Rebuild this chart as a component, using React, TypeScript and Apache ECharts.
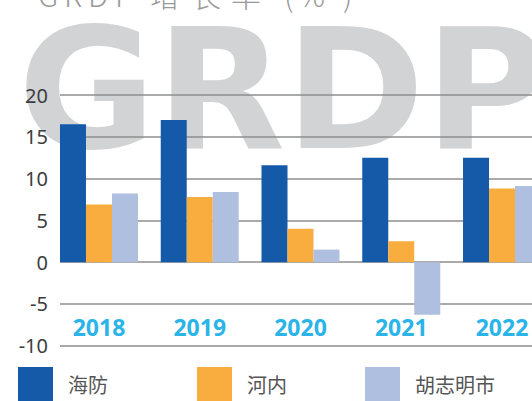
import React, { useEffect, useRef } from "react";
import * as echarts from "echarts";

const years = ["2018", "2019", "2020", "2021", "2022"];
const haiphong = [16.5, 17.0, 11.6, 12.5, 12.5];
const hanoi = [6.9, 7.8, 4.0, 2.5, 8.8];
const hcmc = [8.2, 8.4, 1.5, -6.3, 9.1];
const seriesNames = ["海防", "河内", "胡志明市"];
const colors = ["#155aa8", "#f9ad3e", "#aebfdf"];
const titleParts = ["G", "R", "D", "P", "增", "长", "率", "(", "%", ")"];

export default function App() {
  const ref = useRef<HTMLDivElement>(null);
  useEffect(() => {
    if (!ref.current) return;
    const chart = echarts.init(ref.current, undefined, { renderer: "svg" });
    const gridTop = 95;
    const gridBottom = 55.3;
    const titleX = [38, 64, 88, 115, 150, 191, 231, 284, 298, 343];
    const legendBase = {
      orient: "horizontal",
      top: 367,
      padding: 0,
      itemWidth: 35,
      itemHeight: 35,
      icon: "rect",
      selectedMode: false,
      textStyle: {
        fontSize: 20,
        color: "#555",
        fontFamily: "Noto Sans CJK SC",
        padding: [0, 0, 0, 10],
      },
    };
    const titleEls = titleParts.map((t, i) => ({
      type: "text",
      z: -10,
      x: titleX[i],
      y: -6,
      silent: true,
      style: {
        text: t,
        fontSize: 30,
        fontWeight: 300,
        fontFamily: "Noto Sans CJK SC",
        fill: "#9a9a9a",
        verticalAlign: "middle",
        align: "left",
      },
    }));
    const option: any = {
      animation: false,
      backgroundColor: "#ffffff",
      color: colors,
      graphic: [
        {
          type: "text",
          z: -10,
          x: 18,
          y: 6,
          silent: true,
          style: {
            text: "GRDP",
            fontSize: 168,
            fontWeight: "bold",
            fontFamily: "DejaVu Sans",
            fill: "#d2d3d5",
            verticalAlign: "top",
            align: "left",
          },
        },
        ...titleEls,
      ],
      legend: [
        { ...legendBase, left: 18, data: [seriesNames[0]] },
        { ...legendBase, left: 197, data: [seriesNames[1]] },
        { ...legendBase, left: 365, data: [seriesNames[2]] },
      ],
      grid: [
        { left: 60, right: 0, top: gridTop, bottom: gridBottom, outerBoundsMode: "none" },
        { left: 48.6, width: 503.8, top: gridTop, bottom: gridBottom, outerBoundsMode: "none" },
      ],
      xAxis: [
        {
          gridIndex: 0,
          type: "category",
          data: years,
          show: false,
        },
        {
          gridIndex: 1,
          type: "category",
          data: years,
          axisLine: { show: false },
          axisTick: { show: false },
          axisLabel: {
            color: "#2ab4e8",
            fontSize: 23,
            fontWeight: "bold",
            fontFamily: "Noto Sans",
            verticalAlign: "middle",
            margin: -19,
          },
        },
      ],
      yAxis: [
        {
          gridIndex: 0,
          type: "value",
          min: -10,
          max: 20,
          interval: 5,
          axisLine: { show: false },
          axisTick: { show: false },
          axisLabel: {
            color: "#3d3d3d",
            fontSize: 20,
            fontFamily: "Noto Sans",
            margin: 12,
          },
          splitLine: { lineStyle: { color: "#8e8e8e", width: 1.5 } },
        },
        {
          gridIndex: 1,
          type: "value",
          min: -10,
          max: 20,
          interval: 5,
          show: false,
          splitLine: { show: false },
        },
      ],
      series: [
        { name: seriesNames[0], type: "bar", xAxisIndex: 1, yAxisIndex: 1, data: haiphong, barWidth: 26, barGap: "0%" },
        { name: seriesNames[1], type: "bar", xAxisIndex: 1, yAxisIndex: 1, data: hanoi, barWidth: 26, barGap: "0%" },
        { name: seriesNames[2], type: "bar", xAxisIndex: 1, yAxisIndex: 1, data: hcmc, barWidth: 26, barGap: "0%" },
      ],
    };
    chart.setOption(option);
    return () => chart.dispose();
  }, []);
  return (
    <div
      ref={ref}
      style={{ position: "fixed", left: 0, top: 0, width: 532, height: 401, overflow: "hidden" }}
    />
  );
}
